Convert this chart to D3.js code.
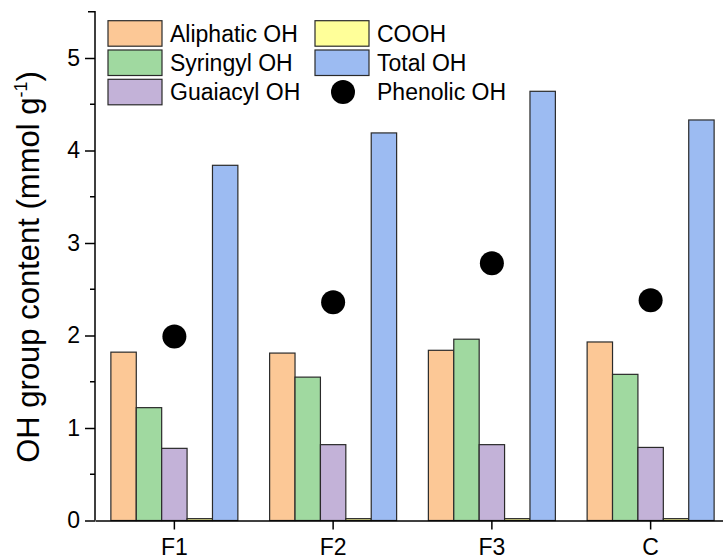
<!DOCTYPE html>
<html>
<head>
<meta charset="utf-8">
<script src="https://cdn.jsdelivr.net/npm/d3@7.9.0/dist/d3.min.js"></script>
<style>
  body { margin: 0; background: #fff; }
  svg { display: block; font-family: "Liberation Sans", Arial, sans-serif; }
</style>
</head>
<body>
<svg id="chart" width="723" height="560"></svg>
<script>
// samples on the x axis
const samples = ['F1', 'F2', 'F3', 'C'];

// bar series (mmol/g)
const aliphatic = [1.82, 1.81, 1.84, 1.93];
const syringyl  = [1.22, 1.55, 1.96, 1.58];
const guaiacyl  = [0.78, 0.82, 0.82, 0.79];
const cooh      = [0.02, 0.02, 0.02, 0.02];
const totalOH   = [3.84, 4.19, 4.64, 4.33];

// phenolic OH drawn as dots
const phenolic  = [1.99, 2.36, 2.78, 2.38];

const seriesNames  = ['Aliphatic OH', 'Syringyl OH', 'Guaiacyl OH', 'COOH', 'Total OH'];
const seriesColors = ['#fcc896', '#a0d9a0', '#c3b2d8', '#ffff99', '#9cbbf2'];
const seriesValues = [aliphatic, syringyl, guaiacyl, cooh, totalOH];

const yTicks = [0, 1, 2, 3, 4, 5];
const yMinorTicks = [0.5, 1.5, 2.5, 3.5, 4.5];

const svg = d3.select('#chart');

// scales
const y = d3.scaleLinear().domain([0, 5.5]).range([520.5, 11.75]);
const x = d3.scaleBand().domain(samples).range([95, 730]).paddingInner(0).paddingOuter(0);
const xs = d3.scaleBand().domain(seriesNames).range([-63.5, 63.5]);

// bars
const barData = [];
samples.forEach((s, i) => {
  seriesNames.forEach((name, j) => {
    barData.push({ sample: s, series: name, value: seriesValues[j][i], color: seriesColors[j] });
  });
});

svg.append('g')
  .selectAll('rect')
  .data(barData)
  .join('rect')
  .attr('x', d => x(d.sample) + x.bandwidth() / 2 + xs(d.series))
  .attr('width', xs.bandwidth())
  .attr('y', d => y(d.value))
  .attr('height', d => y(0) - y(d.value))
  .attr('fill', d => d.color)
  .attr('stroke', '#2a2a2a')
  .attr('stroke-width', 1.2);

// phenolic dots
svg.append('g')
  .selectAll('circle')
  .data(phenolic)
  .join('circle')
  .attr('cx', (d, i) => x(samples[i]) + x.bandwidth() / 2)
  .attr('cy', d => y(d))
  .attr('r', 12)
  .attr('fill', '#000');

// y axis (major + minor ticks)
const yAxis = svg.append('g')
  .attr('transform', 'translate(95,0)')
  .call(d3.axisLeft(y).tickValues(yTicks).tickSize(10).tickSizeOuter(0).tickPadding(5).tickFormat(d3.format('d')));
yAxis.select('.domain').remove();
yAxis.selectAll('.tick line').attr('stroke', '#000').attr('stroke-width', 1.5);
yAxis.selectAll('.tick text').attr('font-size', 23).attr('fill', '#000')
  .attr('font-family', '"Liberation Sans", Arial, sans-serif');

svg.append('g')
  .selectAll('line')
  .data(yMinorTicks)
  .join('line')
  .attr('x1', 90).attr('x2', 95)
  .attr('y1', d => y(d)).attr('y2', d => y(d))
  .attr('stroke', '#000').attr('stroke-width', 1.5);

// y axis line with small cap at the top
svg.append('path')
  .attr('d', `M88,${y(5.5)}H95V${y(0)}`)
  .attr('fill', 'none').attr('stroke', '#000').attr('stroke-width', 1.5);

// x axis
const xAxis = svg.append('g')
  .attr('transform', `translate(0,${y(0)})`)
  .call(d3.axisBottom(x).tickSize(9).tickSizeOuter(0).tickPadding(9));
xAxis.select('.domain').attr('stroke', '#000').attr('stroke-width', 1.5);
xAxis.selectAll('.tick line').attr('stroke', '#000').attr('stroke-width', 1.5);
xAxis.selectAll('.tick text').attr('font-size', 23).attr('fill', '#000')
  .attr('font-family', '"Liberation Sans", Arial, sans-serif');

// y axis title
const title = svg.append('text')
  .attr('transform', 'translate(39,267) rotate(-90)')
  .attr('text-anchor', 'middle')
  .attr('font-size', 31)
  .attr('fill', '#000');
title.append('tspan').text('OH group content (mmol g');
title.append('tspan').attr('font-size', 18).attr('dy', -12).text('-1');
title.append('tspan').attr('dy', 12).text(')');

// legend
const legendItems = [
  { name: 'Aliphatic OH', color: seriesColors[0], col: 0, row: 0 },
  { name: 'Syringyl OH', color: seriesColors[1], col: 0, row: 1 },
  { name: 'Guaiacyl OH', color: seriesColors[2], col: 0, row: 2 },
  { name: 'COOH', color: seriesColors[3], col: 1, row: 0 },
  { name: 'Total OH', color: seriesColors[4], col: 1, row: 1 },
  { name: 'Phenolic OH', color: null, col: 1, row: 2 }
];
const colX = [108, 315];
const legend = svg.append('g')
  .selectAll('g')
  .data(legendItems)
  .join('g')
  .attr('transform', d => `translate(${colX[d.col]},${20.7 + d.row * 29.3})`);

legend.filter(d => d.color)
  .append('rect')
  .attr('width', 54).attr('height', 25.5)
  .attr('fill', d => d.color)
  .attr('stroke', '#2a2a2a').attr('stroke-width', 1.2);

legend.filter(d => !d.color)
  .append('circle')
  .attr('cx', 28).attr('cy', 12.75).attr('r', 12)
  .attr('fill', '#000');

legend.append('text')
  .attr('x', 62)
  .attr('y', 21)
  .attr('font-size', 23)
  .attr('fill', '#000')
  .text(d => d.name);
</script>
</body>
</html>
